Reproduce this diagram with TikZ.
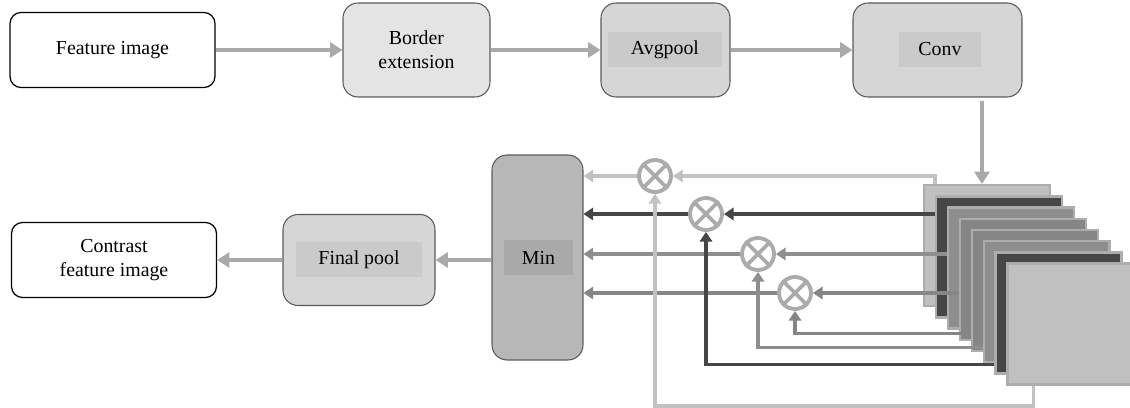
\documentclass[tikz,border=0pt]{standalone}
\usepackage{fontspec}
\setmainfont{Liberation Serif}
\usetikzlibrary{arrows.meta}

\definecolor{pipe}{HTML}{A9A9A9}
\definecolor{boxline}{HTML}{5A5A5A}
\definecolor{fillA}{HTML}{E4E4E4}
\definecolor{fillB}{HTML}{D6D6D6}
\definecolor{fillC}{HTML}{CACACA}
\definecolor{minfill}{HTML}{B7B7B7}
\definecolor{minin}{HTML}{A9A9A9}
\definecolor{lightln}{HTML}{C2C2C2}
\definecolor{darkln}{HTML}{464646}
\definecolor{midln}{HTML}{8E8E8E}
\definecolor{midlnb}{HTML}{868686}
\definecolor{ringc}{HTML}{ABABAB}
\definecolor{sqlight}{HTML}{C0C0C0}
\definecolor{sqline}{HTML}{ADADAD}

\begin{document}
\begin{tikzpicture}[x=0.02cm, y=-0.02cm, font=\rmfamily\fontsize{11.3}{13.6}\selectfont]
		    \tikzset{
   			block/.style={draw=boxline, line width=0.6pt, rounded corners=0.3cm, minimum height=1.88cm},
   			inbox/.style={fill=#1, minimum height=0.7cm, inner sep=0pt},
   			plain/.style={draw=black, line width=0.7pt, rounded corners=0.22cm, minimum width=4.1cm, minimum height=1.5cm, align=center},
    		bigarrow/.style={draw=pipe, line width=2.6pt, -{Triangle[length=7pt,width=8.5pt]}},
    		link/.style={draw=#1, line width=1.9pt, -{Triangle[length=5.5pt,width=7pt]}},
    		ring/.style={circle, draw=ringc, fill=white, line width=2.2pt, minimum size=0.64cm, inner sep=0pt},
    		slice/.style={draw=sqline, line width=1.4pt, fill=#1, minimum width=2.52cm, minimum height=2.42cm, inner sep=0pt, anchor=north west}
		    }
            \useasboundingbox (0,0) rectangle (1130,408);

   	        \draw node[plain] (feat) at (112.5,50) {Feature image};
            \draw node[block, fill=fillA, minimum width=2.94cm, align=center] (border) at (416.5,50) {Border\\extension};
            \draw node[block, fill=fillB, minimum width=2.58cm] (avg) at (665.5,50) {};
            \draw node[inbox=fillC, minimum width=2.28cm] (avgin) at (665,49.5) {Avgpool};
            \draw node[block, fill=fillB, minimum width=3.38cm] (conv) at (937.5,50) {};
            \draw node[inbox=fillC, minimum width=1.64cm] (convin) at (940,49.5) {Conv};
            \draw node[plain] (contrast) at (114,260) {Contrast\\feature image};
            \draw node[block, fill=fillB, minimum width=3.04cm, minimum height=1.82cm] (final) at (359,260) {};
            \draw node[inbox=fillC, minimum width=2.52cm] (finalin) at (359,259.5) {Final pool};
            \draw node[block, fill=minfill, minimum width=1.82cm, minimum height=4.1cm] (min) at (537.5,257.5) {};
            \draw node[inbox=minin, minimum width=1.38cm] (minin) at (538.5,257.5) {Min};

            % feature maps, back to front
            \foreach \i/\col in {0/sqlight,1/darkln,2/midln,3/midlnb,4/midlnb,5/midln,6/darkln,7/sqlight}{
            \draw node[slice=\col] (sq\i) at (923+11.9*\i, 184+11.2*\i) {};
            }

            \draw node[ring] (c1) at (655,176) {};
            \draw node[ring] (c2) at (706,214) {};
            \draw node[ring] (c3) at (758,254) {};
            \draw node[ring] (c4) at (795,293) {};
            \foreach \c in {c1,c2,c3,c4}{
            \draw[draw=ringc, line width=2.2pt] (\c.45) -- (\c.225) (\c.135) -- (\c.315);
            }

            \draw[bigarrow] (feat) -- (border);
            \draw[bigarrow] (border) -- (avg);
            \draw[bigarrow] (avg) -- (conv);
            \coordinate (convout) at ([xshift=0.89cm,yshift=-0.06cm]conv.south);
            \draw[bigarrow] (convout) -- (convout |- sq0.north);
            \draw[bigarrow] (final -| min.west) -- (final.east);
            \draw[bigarrow] (final) -- (contrast);

            \draw[link=lightln] (c1) -- (c1 -| min.east);
            \draw[link=darkln] (c2) -- (c2 -| min.east);
            \draw[link=midln] (c3) -- (c3 -| min.east);
            \draw[link=midlnb] (c4) -- (c4 -| min.east);

            \draw[link=lightln] ([xshift=0.24cm]sq0.north west) |- (c1);
            \draw[link=darkln] (c2 -| sq1.west) -- (c2);
            \draw[link=midln] (c3 -| sq2.west) -- (c3);
            \draw[link=midlnb] (c4 -| sq3.west) -- (c4);
            \draw[link=midlnb] ([yshift=0.38cm]sq4.south west) -| (c4);
            \draw[link=midln] ([yshift=0.32cm]sq5.south west) -| (c3);
            \draw[link=darkln] ([yshift=0.2cm]sq6.south west) -| (c2);
            \coordinate (lowbend) at (655,406);
            \draw[link=lightln] ([xshift=0.54cm]sq7.south west) |- (lowbend) -- (c1);
            % \draw[link=lightln] (c1) -- (min);
	    \end{tikzpicture}
\end{document}
